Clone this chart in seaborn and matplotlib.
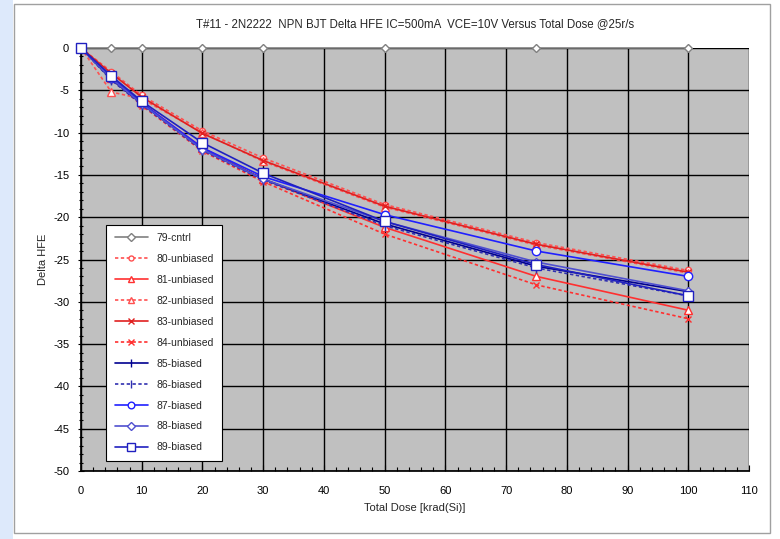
import matplotlib
matplotlib.use("Agg")
import matplotlib.pyplot as plt
from matplotlib.patches import Rectangle
from matplotlib.ticker import MultipleLocator
import seaborn as sns
import pandas as pd

sns.set_theme(style="white")
plt.rcParams['font.family'] = ['Liberation Sans', 'DejaVu Sans']
plt.rcParams['axes.unicode_minus'] = False

dose = [0, 5, 10, 20, 30, 50, 75, 100]
labels = ["79-cntrl", "80-unbiased", "81-unbiased", "82-unbiased", "83-unbiased",
          "84-unbiased", "85-biased", "86-biased", "87-biased", "88-biased", "89-biased"]
s79 = [0, 0, 0, 0, 0, 0, 0, 0]
s80 = [0, -2.8, -5.6, -9.8, -13.0, -18.5, -23.0, -26.3]
s81 = [0, -3.5, -6.5, -11.8, -15.5, -21.2, -27.0, -31.0]
s82 = [0, -5.2, -6.0, -10.0, -13.4, -18.8, -23.3, -26.6]
s83 = [0, -3.0, -5.8, -10.1, -13.3, -18.7, -23.2, -26.5]
s84 = [0, -3.6, -6.8, -12.2, -15.8, -22.0, -28.0, -32.0]
s85 = [0, -3.7, -6.6, -12.0, -15.5, -20.8, -25.8, -28.8]
s86 = [0, -3.8, -6.7, -12.1, -15.6, -21.0, -26.0, -29.3]
s87 = [0, -3.5, -6.5, -11.8, -15.2, -19.7, -24.0, -27.0]
s88 = [0, -3.6, -6.6, -12.0, -15.5, -20.5, -25.3, -28.7]
s89 = [0, -3.3, -6.3, -11.2, -14.8, -20.5, -25.6, -29.3]
values = [s79, s80, s81, s82, s83, s84, s85, s86, s87, s88, s89]

styles = [
    dict(color="#808080", ls="-", marker="D", ms=4.5),
    dict(color="#ff5050", ls=(0, (2, 1.5)), marker="o", ms=4.5),
    dict(color="#ff3030", ls="-", marker="^", ms=5.5),
    dict(color="#ff5050", ls=(0, (2, 1.5)), marker="^", ms=5.5),
    dict(color="#e02020", ls="-", marker="x", ms=5),
    dict(color="#ff3030", ls=(0, (2, 1.5)), marker="x", ms=5),
    dict(color="#000090", ls="-", marker="|", ms=7),
    dict(color="#3030b0", ls=(0, (2, 1.5)), marker="|", ms=7),
    dict(color="#2020ff", ls="-", marker="o", ms=6),
    dict(color="#5050d0", ls="-", marker="D", ms=4.5),
    dict(color="#2020c0", ls="-", marker="s", ms=6.5),
]

fig = plt.figure(figsize=(7.8, 5.39), dpi=100)
fig.patch.set_facecolor("white")
# left light-blue strip and chart frame
fig.patches.append(Rectangle((0, 0), 13 / 780, 1, transform=fig.transFigure,
                             facecolor="#dde9fb", edgecolor="none", zorder=0))
fig.patches.append(Rectangle((14 / 780, 6 / 539), 756 / 780, 529 / 539, transform=fig.transFigure,
                             facecolor="white", edgecolor="#a0a0a0", lw=1, zorder=0))

ax = fig.add_axes([81 / 780, 1 - 471 / 539, (749 - 81) / 780, (471 - 48) / 539])
ax.set_zorder(2)
ax.set_facecolor("#c0c0c0")

for lab, vals, st in zip(labels, values, styles):
    df = pd.DataFrame({"dose": dose, "v": vals})
    sns.lineplot(data=df, x="dose", y="v", ax=ax, color=st["color"], linestyle=st["ls"],
                 marker=st["marker"], markersize=st["ms"], markerfacecolor="white",
                 markeredgecolor=st["color"], markeredgewidth=1.0, lw=1.2, label=lab,
                 clip_on=False, zorder=3)

ax.set_xlim(0, 110)
ax.set_ylim(-50, 0)
ax.xaxis.set_major_locator(MultipleLocator(10))
ax.xaxis.set_minor_locator(MultipleLocator(2))
ax.yaxis.set_major_locator(MultipleLocator(5))
ax.yaxis.set_minor_locator(MultipleLocator(1))
ax.grid(True, which="major", color="black", lw=1.0)
ax.set_axisbelow(True)
for sp in ax.spines.values():
    sp.set_visible(False)
ax.spines["left"].set_visible(True)
ax.spines["bottom"].set_visible(True)
ax.spines["left"].set_color("black")
ax.spines["bottom"].set_color("black")
ax.tick_params(axis="x", which="both", direction="in", bottom=True, length=4, width=0.8,
               labelsize=8, pad=11, colors="black")
ax.tick_params(axis="x", which="minor", length=3)
ax.tick_params(axis="y", which="both", direction="inout", left=True, length=5, width=0.8,
               labelsize=8, pad=6, colors="black")
ax.tick_params(axis="y", which="minor", length=3)
ax.set_xlabel("Total Dose [krad(Si)]", fontsize=8, labelpad=5)
ax.set_ylabel("Delta HFE", fontsize=8, labelpad=4)
ax.set_title("T#11 - 2N2222  NPN BJT Delta HFE IC=500mA  VCE=10V Versus Total Dose @25r/s",
             fontsize=8.3, pad=15)

leg = ax.legend(loc="lower left", bbox_to_anchor=(0.03, 0.012), fontsize=7.5, frameon=True,
                fancybox=False, edgecolor="black", facecolor="white", framealpha=1,
                borderpad=0.8, labelspacing=1.05, handlelength=3.2, handletextpad=0.8,
                markerscale=0.8)
leg.get_frame().set_linewidth(0.8)

fig.savefig("out.png", dpi=100)
